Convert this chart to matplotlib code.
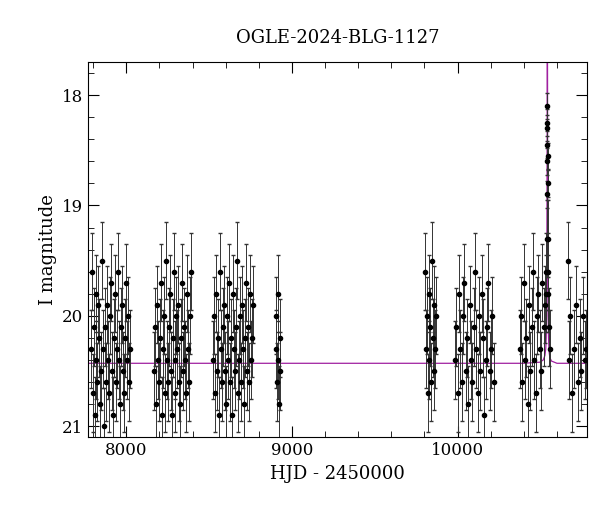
import numpy as np
import matplotlib.pyplot as plt

plt.rcParams["font.family"] = "DejaVu Serif"

hjd = [
    7785, 7792, 7798, 7803, 7809, 7815, 7820, 7826, 7831, 7837, 7843, 7848, 7854, 7860, 7866,
    7872, 7878, 7884, 7890, 7896, 7902, 7908, 7914, 7920, 7926, 7932, 7938, 7944, 7950, 7956,
    7962, 7968, 7974, 7980, 7986, 7992, 7998, 8004, 8010, 8018, 8025,
    8165, 8171, 8177, 8183, 8189, 8195, 8201, 8207, 8213, 8219, 8225, 8231, 8237, 8243, 8249,
    8255, 8261, 8267, 8273, 8279, 8285, 8291, 8297, 8303, 8309, 8315, 8321, 8327, 8333, 8339,
    8345, 8351, 8357, 8363, 8369, 8375, 8381, 8387, 8393,
    8525, 8531, 8537, 8543, 8549, 8555, 8561, 8567, 8573, 8579, 8585, 8591, 8597, 8603, 8609,
    8615, 8621, 8627, 8633, 8639, 8645, 8651, 8657, 8663, 8669, 8675, 8681, 8687, 8693, 8699,
    8705, 8711, 8717, 8723, 8729, 8735, 8741, 8747, 8753, 8759, 8765,
    8902, 8906, 8910, 8914, 8918, 8922, 8926, 8930,
    9805, 9810, 9815, 9820, 9825, 9830, 9835, 9840, 9845, 9850, 9855, 9860, 9866, 9872,
    9985, 9993, 10001, 10009, 10017, 10025, 10033, 10041, 10049, 10057, 10065, 10073, 10081,
    10089, 10097, 10105, 10113, 10121, 10129, 10137, 10145, 10153, 10161, 10169, 10177, 10185,
    10193, 10201, 10209, 10217,
    10375, 10383, 10391, 10399, 10407, 10415, 10423, 10431, 10439, 10447, 10455, 10463, 10471,
    10479, 10487, 10495, 10503, 10511, 10519, 10527, 10533, 10536, 10538, 10540,
    10541, 10541.5, 10542, 10542, 10542.5, 10543, 10543, 10544, 10545, 10547, 10550, 10555,
    10665, 10672, 10680, 10688, 10700, 10712, 10724, 10736, 10748, 10760, 10770, 10778,
]
mag = [
    20.3, 19.6, 20.7, 20.1, 20.9, 19.8, 20.4, 20.6, 19.9, 20.2, 20.8, 20.5, 19.5, 20.3, 21.0,
    20.1, 20.6, 19.9, 20.4, 20.7, 20.0, 19.7, 20.5, 20.9, 20.2, 19.8, 20.6, 20.3, 19.6, 20.4,
    20.8, 20.1, 19.9, 20.5, 20.7, 20.2, 19.7, 20.4, 20.0, 20.6, 20.3,
    20.5, 20.1, 20.8, 19.9, 20.4, 20.6, 20.2, 19.7, 20.9, 20.3, 20.0, 20.7, 19.5, 20.4, 20.6,
    20.1, 19.8, 20.5, 20.9, 20.2, 19.6, 20.4, 20.7, 20.0, 20.3, 19.9, 20.6, 20.8, 20.2, 19.7,
    20.5, 20.1, 20.4, 20.7, 19.8, 20.3, 20.6, 20.0, 19.6,
    20.4, 20.0, 20.7, 19.8, 20.5, 20.2, 20.9, 19.6, 20.3, 20.6, 20.1, 19.9, 20.5, 20.8, 20.0,
    20.4, 19.7, 20.6, 20.2, 20.9, 19.8, 20.3, 20.5, 20.1, 19.5, 20.7, 20.4, 20.0, 20.6, 19.9,
    20.3, 20.8, 20.2, 19.7, 20.5, 20.1, 20.6, 19.8, 20.4, 20.2, 19.9,
    20.0, 20.3, 20.6, 19.8, 20.4, 20.8, 20.2, 20.5,
    19.6, 20.3, 20.0, 20.7, 19.8, 20.4, 20.1, 20.6, 19.5, 20.2, 20.5, 19.9, 20.3, 20.0,
    20.4, 20.1, 20.7, 19.8, 20.3, 20.6, 20.0, 19.7, 20.5, 20.2, 20.8, 19.9, 20.4,
    20.6, 20.1, 19.6, 20.3, 20.7, 20.0, 20.5, 19.8, 20.2, 20.9, 20.4, 20.1, 19.7,
    20.5, 20.3, 20.0, 20.6,
    20.3, 20.0, 20.6, 19.7, 20.4, 20.2, 20.8, 19.9, 20.5, 20.1, 19.6, 20.4, 20.7,
    20.0, 19.8, 20.3, 20.5, 19.7, 20.1, 19.9, 19.8, 19.6, 19.3, 18.9,
    18.6, 18.3, 18.1, 18.25, 18.45, 18.55, 18.8, 19.3, 19.6, 19.8, 20.1, 20.3,
    19.5, 20.4, 20.0, 20.7, 20.3, 19.9, 20.6, 20.2, 20.5, 20.0, 20.4, 20.3,
]
err = [0.35 if m > 19.0 else 0.12 for m in mag]

# microlensing model curve
model_t = [7770, 10400, 10497, 10517, 10527, 10532, 10535, 10537, 10539, 10540, 10541,
           10542, 10543, 10544, 10545, 10547, 10549, 10552, 10557, 10567, 10600, 10780]
model_m = [20.43, 20.43, 20.42, 20.40, 20.36, 20.30, 20.20, 20.00, 19.40, 18.80, 17.90,
           17.20, 17.90, 18.80, 19.40, 20.00, 20.20, 20.32, 20.38, 20.41, 20.43, 20.43]

fig = plt.figure(figsize=(6, 5.12), dpi=100)
ax = fig.add_axes([0.147, 0.146, 0.831, 0.733])

ax.plot(model_t, model_m, color="#a020a0", lw=0.9, zorder=1)
ax.errorbar(hjd, mag, yerr=err, fmt="o", ms=3, color="black", ecolor="#333333",
            elinewidth=0.7, capsize=1.5, zorder=2)

ax.set_xlim(7770, 10780)
ax.set_ylim(21.1, 17.7)
ax.set_xticks([8000, 9000, 10000])
ax.set_xticks(np.arange(7800, 10800, 200), minor=True)
ax.set_yticks([18, 19, 20, 21])
ax.set_yticks(np.arange(17.8, 21.1, 0.2), minor=True)
ax.tick_params(which="both", direction="in", top=True, right=True, labelsize=12)
ax.tick_params(which="major", length=8)
ax.tick_params(which="minor", length=4)
ax.set_xlabel("HJD - 2450000", fontsize=13)
ax.set_ylabel("I magnitude", fontsize=13)
ax.set_title("OGLE-2024-BLG-1127", fontsize=13, pad=14)

fig.savefig("out.png", dpi=100)
